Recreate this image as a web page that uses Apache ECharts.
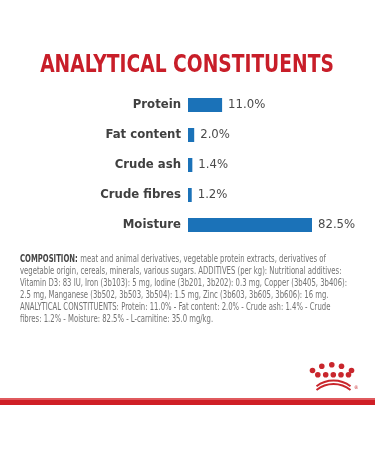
<!DOCTYPE html>
<html>
<head>
<meta charset="utf-8">
<script src="https://cdn.jsdelivr.net/npm/echarts@6/dist/echarts.min.js"></script>
<style>
html,body{margin:0;padding:0;background:#fff;}
#chart{width:375px;height:450px;}
</style>
</head>
<body>
<div id="chart"></div>
<script>
const titleText = 'ANALYTICAL CONSTITUENTS';
const categories = ['Protein', 'Fat content', 'Crude ash', 'Crude fibres', 'Moisture'];
const values = [11.0, 2.0, 1.4, 1.2, 82.5];
const valueLabels = ['11.0%', '2.0%', '1.4%', '1.2%', '82.5%'];
const compositionLines = [
  'meat and animal derivatives, vegetable protein extracts, derivatives of',
  'vegetable origin, cereals, minerals, various sugars. ADDITIVES (per kg): Nutritional additives:',
  'Vitamin D3: 83 IU, Iron (3b103): 5 mg, Iodine (3b201, 3b202): 0.3 mg, Copper (3b405, 3b406):',
  '2.5 mg, Manganese (3b502, 3b503, 3b504): 1.5 mg, Zinc (3b603, 3b605, 3b606): 16 mg.',
  'ANALYTICAL CONSTITUENTS: Protein: 11.0% - Fat content: 2.0% - Crude ash: 1.4% - Crude',
  'fibres: 1.2% - Moisture: 82.5% - L-carnitine: 35.0 mg/kg.'
];

const FONT = "'Liberation Sans Narrow', 'DejaVu Sans Condensed', 'Roboto', sans-serif";
const RED = '#c81e29';
const BLUE = '#1b72b8';

const chart = echarts.init(document.getElementById('chart'), null, {renderer: 'canvas'});

// crown logo pieces
const crownDots = [
  [312.5, 370.5], [321.8, 366.3], [331.8, 364.7], [341.5, 366.3], [351.5, 370.5],
  [317.8, 374.8], [325.7, 374.8], [333.3, 374.8], [341, 374.8], [348.5, 374.8]
];
const crown = crownDots.map(p => ({
  type: 'circle', shape: {cx: p[0], cy: p[1], r: 2.8}, style: {fill: '#c9262c'}, silent: true
}));
[[28, 408.5], [27, 411]].forEach(a => {
  const half = Math.asin(17 / a[0]);
  crown.push({
    type: 'arc',
    shape: {cx: 333.5, cy: a[1], r: a[0], startAngle: -Math.PI / 2 - half, endAngle: -Math.PI / 2 + half},
    style: {stroke: '#c9262c', lineWidth: 2, fill: null},
    silent: true
  });
});
crown.push({type: 'text', x: 354, y: 385, style: {text: '®', fontSize: 5, fill: '#c9262c', fontFamily: FONT}, silent: true});

const compRich = compositionLines.map((l, i) => i === 0 ? '{b|COMPOSITION:} {n|' + l + '}' : '{n|' + l + '}').join('\n');

chart.setOption({
  backgroundColor: '#ffffff',
  animation: false,
  grid: {left: 188, top: 90, width: 124, height: 150, containLabel: false},
  xAxis: {
    type: 'value', min: 0, max: 40, show: false
  },
  yAxis: {
    type: 'category', data: categories, inverse: true,
    axisLine: {show: false}, axisTick: {show: false}, splitLine: {show: false},
    axisLabel: {margin: 7, fontFamily: FONT, fontWeight: 'bold', fontSize: 13, color: '#404040'}
  },
  series: [{
    type: 'bar',
    data: values,
    barWidth: 14,
    clip: true,
    itemStyle: {color: BLUE},
    label: {
      show: true, position: 'right', distance: 6,
      formatter: p => valueLabels[p.dataIndex],
      fontFamily: FONT, fontSize: 13, color: '#4a4a4a'
    }
  }],
  graphic: [
    {
      type: 'text', x: 187, y: 65, scaleX: 0.83, silent: true,
      style: {text: titleText, fontFamily: FONT, fontWeight: 'bold', fontSize: 25, fill: RED,
        align: 'center', verticalAlign: 'middle'}
    },
    {
      type: 'text', x: 20, y: 253, scaleX: 0.765, silent: true,
      style: {
        text: compRich,
        lineHeight: 12,
        rich: {
          b: {fontFamily: FONT, fontWeight: 'bold', fontSize: 10, fill: '#444', lineHeight: 12},
          n: {fontFamily: FONT, fontSize: 10, fill: '#727272', lineHeight: 12}
        }
      }
    },
    {type: 'rect', shape: {x: 0, y: 398, width: 375, height: 2}, style: {fill: '#e05a5e'}, silent: true},
    {type: 'rect', shape: {x: 0, y: 400, width: 375, height: 5}, style: {fill: '#cf1f26'}, silent: true}
  ].concat(crown)
});
</script>
</body>
</html>
